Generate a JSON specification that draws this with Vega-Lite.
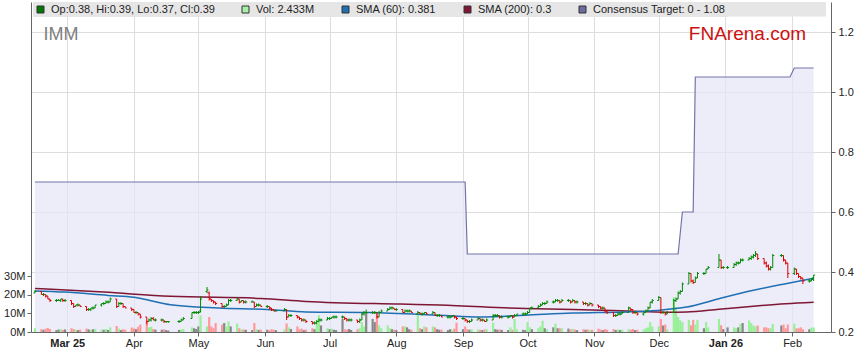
{
"$schema": "https://vega.github.io/schema/vega-lite/v6.json",
"width": 800, "height": 330,
"autosize": {"type": "none"},
"padding": {"left": 31, "top": 2, "right": 28, "bottom": 31},
"background": "white",
"config": {
 "view": {"stroke": null},
 "font": "Liberation Sans",
 "axis": {"labelFont": "Liberation Sans", "labelFontSize": 11, "labelColor": "#222222", "tickColor": "#666666", "domainColor": "#666666", "gridColor": "#dddddd", "tickSize": 4, "labelFlush": false}
},
"datasets": {
 "px": [
{"d":"2025-02-14","o":0.33,"h":0.34,"l":0.33,"c":0.335,"v":2.0},
{"d":"2025-02-17","o":0.335,"h":0.335,"l":0.325,"c":0.325,"v":1.5},
{"d":"2025-02-18","o":0.325,"h":0.33,"l":0.32,"c":0.325,"v":1.2},
{"d":"2025-02-19","o":0.325,"h":0.325,"l":0.315,"c":0.32,"v":1.8},
{"d":"2025-02-20","o":0.32,"h":0.32,"l":0.31,"c":0.31,"v":2.2},
{"d":"2025-02-21","o":0.31,"h":0.31,"l":0.30,"c":0.305,"v":1.6},
{"d":"2025-02-24","o":0.305,"h":0.31,"l":0.30,"c":0.305,"v":1.0},
{"d":"2025-02-25","o":0.305,"h":0.31,"l":0.305,"c":0.305,"v":1.3},
{"d":"2025-02-26","o":0.305,"h":0.31,"l":0.30,"c":0.31,"v":1.5},
{"d":"2025-02-27","o":0.31,"h":0.31,"l":0.30,"c":0.305,"v":1.1},
{"d":"2025-02-28","o":0.305,"h":0.31,"l":0.30,"c":0.305,"v":1.4},
{"d":"2025-03-03","o":0.305,"h":0.305,"l":0.29,"c":0.295,"v":2.0},
{"d":"2025-03-04","o":0.295,"h":0.295,"l":0.28,"c":0.285,"v":1.6},
{"d":"2025-03-05","o":0.285,"h":0.29,"l":0.285,"c":0.29,"v":1.2},
{"d":"2025-03-06","o":0.29,"h":0.295,"l":0.285,"c":0.29,"v":1.0},
{"d":"2025-03-07","o":0.29,"h":0.29,"l":0.285,"c":0.285,"v":1.3},
{"d":"2025-03-10","o":0.285,"h":0.285,"l":0.27,"c":0.275,"v":1.8},
{"d":"2025-03-11","o":0.275,"h":0.28,"l":0.27,"c":0.275,"v":1.4},
{"d":"2025-03-12","o":0.275,"h":0.28,"l":0.27,"c":0.28,"v":1.1},
{"d":"2025-03-13","o":0.28,"h":0.285,"l":0.275,"c":0.28,"v":1.5},
{"d":"2025-03-14","o":0.28,"h":0.29,"l":0.28,"c":0.29,"v":1.7},
{"d":"2025-03-17","o":0.29,"h":0.295,"l":0.285,"c":0.295,"v":1.3},
{"d":"2025-03-18","o":0.295,"h":0.30,"l":0.29,"c":0.295,"v":1.2},
{"d":"2025-03-19","o":0.295,"h":0.305,"l":0.295,"c":0.30,"v":1.6},
{"d":"2025-03-20","o":0.30,"h":0.305,"l":0.295,"c":0.30,"v":1.1},
{"d":"2025-03-21","o":0.30,"h":0.315,"l":0.30,"c":0.31,"v":2.5},
{"d":"2025-03-24","o":0.31,"h":0.31,"l":0.28,"c":0.285,"v":3.2},
{"d":"2025-03-25","o":0.285,"h":0.30,"l":0.285,"c":0.295,"v":1.8},
{"d":"2025-03-26","o":0.295,"h":0.30,"l":0.29,"c":0.295,"v":1.0},
{"d":"2025-03-27","o":0.295,"h":0.295,"l":0.28,"c":0.285,"v":1.5},
{"d":"2025-03-28","o":0.285,"h":0.285,"l":0.28,"c":0.28,"v":1.2},
{"d":"2025-03-31","o":0.28,"h":0.28,"l":0.27,"c":0.275,"v":2.4},
{"d":"2025-04-01","o":0.275,"h":0.275,"l":0.265,"c":0.265,"v":1.9},
{"d":"2025-04-02","o":0.265,"h":0.27,"l":0.26,"c":0.265,"v":1.5},
{"d":"2025-04-03","o":0.265,"h":0.265,"l":0.255,"c":0.26,"v":2.8},
{"d":"2025-04-04","o":0.26,"h":0.26,"l":0.245,"c":0.25,"v":4.0},
{"d":"2025-04-07","o":0.25,"h":0.25,"l":0.225,"c":0.235,"v":6.2},
{"d":"2025-04-08","o":0.235,"h":0.245,"l":0.235,"c":0.24,"v":2.5},
{"d":"2025-04-09","o":0.24,"h":0.25,"l":0.235,"c":0.245,"v":2.8},
{"d":"2025-04-10","o":0.245,"h":0.25,"l":0.24,"c":0.24,"v":1.6},
{"d":"2025-04-11","o":0.24,"h":0.245,"l":0.235,"c":0.24,"v":1.3},
{"d":"2025-04-14","o":0.24,"h":0.245,"l":0.235,"c":0.24,"v":1.2},
{"d":"2025-04-15","o":0.24,"h":0.24,"l":0.23,"c":0.235,"v":1.5},
{"d":"2025-04-16","o":0.235,"h":0.235,"l":0.23,"c":0.235,"v":1.0},
{"d":"2025-04-17","o":0.235,"h":0.235,"l":0.23,"c":0.235,"v":0.8},
{"d":"2025-04-22","o":0.235,"h":0.24,"l":0.23,"c":0.235,"v":1.1},
{"d":"2025-04-23","o":0.235,"h":0.245,"l":0.235,"c":0.24,"v":1.4},
{"d":"2025-04-24","o":0.24,"h":0.25,"l":0.24,"c":0.245,"v":1.6},
{"d":"2025-04-28","o":0.245,"h":0.265,"l":0.245,"c":0.265,"v":2.5},
{"d":"2025-04-29","o":0.265,"h":0.27,"l":0.26,"c":0.265,"v":2.0},
{"d":"2025-04-30","o":0.265,"h":0.27,"l":0.26,"c":0.265,"v":1.6},
{"d":"2025-05-01","o":0.265,"h":0.27,"l":0.26,"c":0.265,"v":3.0},
{"d":"2025-05-02","o":0.27,"h":0.32,"l":0.265,"c":0.31,"v":8.9},
{"d":"2025-05-05","o":0.335,"h":0.35,"l":0.33,"c":0.34,"v":3.0},
{"d":"2025-05-06","o":0.33,"h":0.335,"l":0.305,"c":0.31,"v":8.0},
{"d":"2025-05-07","o":0.31,"h":0.31,"l":0.30,"c":0.305,"v":3.0},
{"d":"2025-05-08","o":0.305,"h":0.305,"l":0.295,"c":0.30,"v":2.0},
{"d":"2025-05-09","o":0.30,"h":0.30,"l":0.29,"c":0.295,"v":4.8},
{"d":"2025-05-12","o":0.295,"h":0.295,"l":0.28,"c":0.285,"v":4.0},
{"d":"2025-05-13","o":0.285,"h":0.29,"l":0.28,"c":0.285,"v":4.8},
{"d":"2025-05-14","o":0.285,"h":0.295,"l":0.285,"c":0.29,"v":3.0},
{"d":"2025-05-15","o":0.29,"h":0.31,"l":0.29,"c":0.305,"v":5.7},
{"d":"2025-05-16","o":0.305,"h":0.31,"l":0.30,"c":0.305,"v":3.0},
{"d":"2025-05-19","o":0.305,"h":0.315,"l":0.305,"c":0.31,"v":4.5},
{"d":"2025-05-20","o":0.31,"h":0.31,"l":0.295,"c":0.30,"v":2.0},
{"d":"2025-05-21","o":0.30,"h":0.305,"l":0.30,"c":0.305,"v":1.5},
{"d":"2025-05-22","o":0.305,"h":0.305,"l":0.295,"c":0.30,"v":1.3},
{"d":"2025-05-23","o":0.30,"h":0.305,"l":0.295,"c":0.30,"v":1.2},
{"d":"2025-05-26","o":0.30,"h":0.305,"l":0.30,"c":0.30,"v":1.0},
{"d":"2025-05-27","o":0.30,"h":0.30,"l":0.28,"c":0.285,"v":4.8},
{"d":"2025-05-28","o":0.285,"h":0.295,"l":0.285,"c":0.29,"v":1.5},
{"d":"2025-05-29","o":0.29,"h":0.295,"l":0.285,"c":0.29,"v":1.1},
{"d":"2025-05-30","o":0.29,"h":0.29,"l":0.285,"c":0.285,"v":1.3},
{"d":"2025-06-02","o":0.285,"h":0.29,"l":0.28,"c":0.285,"v":1.2},
{"d":"2025-06-03","o":0.285,"h":0.285,"l":0.275,"c":0.28,"v":1.0},
{"d":"2025-06-04","o":0.28,"h":0.28,"l":0.27,"c":0.275,"v":1.5},
{"d":"2025-06-05","o":0.275,"h":0.275,"l":0.27,"c":0.27,"v":1.2},
{"d":"2025-06-06","o":0.27,"h":0.275,"l":0.27,"c":0.27,"v":1.0},
{"d":"2025-06-10","o":0.27,"h":0.28,"l":0.27,"c":0.275,"v":1.4},
{"d":"2025-06-11","o":0.275,"h":0.275,"l":0.24,"c":0.25,"v":4.5},
{"d":"2025-06-12","o":0.25,"h":0.26,"l":0.25,"c":0.255,"v":2.5},
{"d":"2025-06-13","o":0.255,"h":0.26,"l":0.25,"c":0.255,"v":1.6},
{"d":"2025-06-16","o":0.255,"h":0.255,"l":0.245,"c":0.25,"v":3.0},
{"d":"2025-06-17","o":0.25,"h":0.25,"l":0.24,"c":0.245,"v":1.5},
{"d":"2025-06-18","o":0.245,"h":0.245,"l":0.235,"c":0.24,"v":1.8},
{"d":"2025-06-19","o":0.24,"h":0.245,"l":0.235,"c":0.24,"v":1.0},
{"d":"2025-06-20","o":0.24,"h":0.24,"l":0.23,"c":0.235,"v":1.3},
{"d":"2025-06-23","o":0.235,"h":0.235,"l":0.225,"c":0.23,"v":2.0},
{"d":"2025-06-24","o":0.23,"h":0.235,"l":0.225,"c":0.23,"v":1.5},
{"d":"2025-06-25","o":0.23,"h":0.24,"l":0.225,"c":0.235,"v":4.0},
{"d":"2025-06-26","o":0.235,"h":0.245,"l":0.235,"c":0.24,"v":9.0},
{"d":"2025-06-27","o":0.24,"h":0.245,"l":0.235,"c":0.24,"v":3.5},
{"d":"2025-06-30","o":0.24,"h":0.25,"l":0.24,"c":0.245,"v":2.0},
{"d":"2025-07-01","o":0.245,"h":0.25,"l":0.24,"c":0.245,"v":1.5},
{"d":"2025-07-02","o":0.245,"h":0.25,"l":0.245,"c":0.25,"v":1.8},
{"d":"2025-07-03","o":0.25,"h":0.255,"l":0.245,"c":0.25,"v":1.2},
{"d":"2025-07-04","o":0.25,"h":0.255,"l":0.245,"c":0.25,"v":1.0},
{"d":"2025-07-07","o":0.25,"h":0.255,"l":0.245,"c":0.25,"v":7.0},
{"d":"2025-07-08","o":0.25,"h":0.25,"l":0.24,"c":0.245,"v":1.5},
{"d":"2025-07-09","o":0.245,"h":0.245,"l":0.235,"c":0.24,"v":1.2},
{"d":"2025-07-10","o":0.24,"h":0.245,"l":0.235,"c":0.24,"v":1.6},
{"d":"2025-07-11","o":0.24,"h":0.245,"l":0.235,"c":0.24,"v":1.1},
{"d":"2025-07-14","o":0.24,"h":0.24,"l":0.23,"c":0.235,"v":1.5},
{"d":"2025-07-15","o":0.235,"h":0.245,"l":0.23,"c":0.24,"v":2.0},
{"d":"2025-07-16","o":0.24,"h":0.265,"l":0.24,"c":0.26,"v":5.3},
{"d":"2025-07-17","o":0.26,"h":0.27,"l":0.255,"c":0.265,"v":3.0},
{"d":"2025-07-18","o":0.265,"h":0.275,"l":0.26,"c":0.265,"v":10.0},
{"d":"2025-07-21","o":0.265,"h":0.27,"l":0.26,"c":0.265,"v":7.0},
{"d":"2025-07-22","o":0.265,"h":0.27,"l":0.26,"c":0.265,"v":5.3},
{"d":"2025-07-23","o":0.265,"h":0.265,"l":0.245,"c":0.25,"v":10.0},
{"d":"2025-07-24","o":0.25,"h":0.27,"l":0.25,"c":0.265,"v":3.5},
{"d":"2025-07-25","o":0.265,"h":0.275,"l":0.265,"c":0.27,"v":2.0},
{"d":"2025-07-28","o":0.27,"h":0.28,"l":0.27,"c":0.275,"v":3.5},
{"d":"2025-07-29","o":0.275,"h":0.285,"l":0.275,"c":0.28,"v":2.0},
{"d":"2025-07-30","o":0.28,"h":0.285,"l":0.275,"c":0.28,"v":1.5},
{"d":"2025-07-31","o":0.28,"h":0.28,"l":0.275,"c":0.275,"v":1.2},
{"d":"2025-08-01","o":0.275,"h":0.28,"l":0.27,"c":0.275,"v":1.0},
{"d":"2025-08-04","o":0.275,"h":0.275,"l":0.265,"c":0.265,"v":3.0},
{"d":"2025-08-05","o":0.265,"h":0.275,"l":0.265,"c":0.27,"v":3.0},
{"d":"2025-08-06","o":0.27,"h":0.275,"l":0.265,"c":0.27,"v":2.5},
{"d":"2025-08-07","o":0.27,"h":0.275,"l":0.265,"c":0.27,"v":1.5},
{"d":"2025-08-08","o":0.27,"h":0.27,"l":0.265,"c":0.265,"v":1.2},
{"d":"2025-08-11","o":0.26,"h":0.27,"l":0.26,"c":0.265,"v":10.0},
{"d":"2025-08-12","o":0.265,"h":0.265,"l":0.26,"c":0.26,"v":2.0},
{"d":"2025-08-13","o":0.26,"h":0.265,"l":0.255,"c":0.26,"v":1.5},
{"d":"2025-08-14","o":0.26,"h":0.265,"l":0.26,"c":0.265,"v":3.0},
{"d":"2025-08-15","o":0.265,"h":0.265,"l":0.26,"c":0.26,"v":2.5},
{"d":"2025-08-18","o":0.26,"h":0.27,"l":0.26,"c":0.265,"v":3.0},
{"d":"2025-08-19","o":0.265,"h":0.265,"l":0.255,"c":0.255,"v":2.5},
{"d":"2025-08-20","o":0.255,"h":0.26,"l":0.25,"c":0.255,"v":1.5},
{"d":"2025-08-21","o":0.255,"h":0.26,"l":0.25,"c":0.255,"v":1.2},
{"d":"2025-08-22","o":0.255,"h":0.255,"l":0.25,"c":0.25,"v":1.3},
{"d":"2025-08-25","o":0.25,"h":0.255,"l":0.245,"c":0.25,"v":1.0},
{"d":"2025-08-26","o":0.25,"h":0.255,"l":0.245,"c":0.25,"v":1.5},
{"d":"2025-08-27","o":0.25,"h":0.255,"l":0.25,"c":0.255,"v":1.2},
{"d":"2025-08-28","o":0.255,"h":0.255,"l":0.245,"c":0.25,"v":1.8},
{"d":"2025-08-29","o":0.25,"h":0.25,"l":0.24,"c":0.245,"v":5.0},
{"d":"2025-09-01","o":0.245,"h":0.25,"l":0.24,"c":0.245,"v":1.5},
{"d":"2025-09-02","o":0.245,"h":0.245,"l":0.235,"c":0.24,"v":3.0},
{"d":"2025-09-03","o":0.24,"h":0.24,"l":0.23,"c":0.235,"v":1.5},
{"d":"2025-09-04","o":0.235,"h":0.24,"l":0.23,"c":0.235,"v":1.2},
{"d":"2025-09-05","o":0.235,"h":0.245,"l":0.235,"c":0.24,"v":1.5},
{"d":"2025-09-08","o":0.24,"h":0.25,"l":0.24,"c":0.245,"v":1.3},
{"d":"2025-09-09","o":0.245,"h":0.245,"l":0.235,"c":0.24,"v":1.2},
{"d":"2025-09-10","o":0.24,"h":0.245,"l":0.235,"c":0.24,"v":1.0},
{"d":"2025-09-11","o":0.24,"h":0.24,"l":0.235,"c":0.235,"v":1.4},
{"d":"2025-09-12","o":0.235,"h":0.245,"l":0.235,"c":0.24,"v":1.5},
{"d":"2025-09-15","o":0.24,"h":0.26,"l":0.24,"c":0.255,"v":5.0},
{"d":"2025-09-16","o":0.255,"h":0.26,"l":0.25,"c":0.255,"v":1.5},
{"d":"2025-09-17","o":0.255,"h":0.26,"l":0.25,"c":0.255,"v":1.2},
{"d":"2025-09-18","o":0.255,"h":0.255,"l":0.245,"c":0.25,"v":1.4},
{"d":"2025-09-19","o":0.25,"h":0.255,"l":0.245,"c":0.25,"v":1.1},
{"d":"2025-09-22","o":0.25,"h":0.255,"l":0.245,"c":0.25,"v":1.0},
{"d":"2025-09-23","o":0.25,"h":0.255,"l":0.25,"c":0.255,"v":2.5},
{"d":"2025-09-24","o":0.255,"h":0.255,"l":0.245,"c":0.25,"v":1.2},
{"d":"2025-09-25","o":0.25,"h":0.26,"l":0.25,"c":0.255,"v":7.0},
{"d":"2025-09-26","o":0.255,"h":0.26,"l":0.255,"c":0.26,"v":1.5},
{"d":"2025-09-29","o":0.26,"h":0.265,"l":0.255,"c":0.26,"v":1.2},
{"d":"2025-09-30","o":0.26,"h":0.265,"l":0.255,"c":0.26,"v":1.0},
{"d":"2025-10-01","o":0.26,"h":0.27,"l":0.26,"c":0.265,"v":5.3},
{"d":"2025-10-02","o":0.265,"h":0.28,"l":0.265,"c":0.28,"v":2.5},
{"d":"2025-10-03","o":0.28,"h":0.285,"l":0.275,"c":0.28,"v":1.5},
{"d":"2025-10-06","o":0.28,"h":0.29,"l":0.28,"c":0.285,"v":2.0},
{"d":"2025-10-07","o":0.285,"h":0.295,"l":0.285,"c":0.29,"v":3.0},
{"d":"2025-10-08","o":0.29,"h":0.30,"l":0.29,"c":0.295,"v":6.0},
{"d":"2025-10-09","o":0.295,"h":0.30,"l":0.29,"c":0.295,"v":2.0},
{"d":"2025-10-10","o":0.295,"h":0.305,"l":0.295,"c":0.30,"v":1.5},
{"d":"2025-10-13","o":0.30,"h":0.305,"l":0.295,"c":0.30,"v":2.5},
{"d":"2025-10-14","o":0.30,"h":0.31,"l":0.30,"c":0.305,"v":4.5},
{"d":"2025-10-15","o":0.305,"h":0.31,"l":0.30,"c":0.305,"v":2.0},
{"d":"2025-10-16","o":0.305,"h":0.305,"l":0.295,"c":0.30,"v":2.0},
{"d":"2025-10-17","o":0.30,"h":0.31,"l":0.30,"c":0.305,"v":2.0},
{"d":"2025-10-20","o":0.305,"h":0.31,"l":0.30,"c":0.305,"v":1.8},
{"d":"2025-10-21","o":0.305,"h":0.305,"l":0.295,"c":0.30,"v":1.5},
{"d":"2025-10-22","o":0.30,"h":0.31,"l":0.30,"c":0.305,"v":1.6},
{"d":"2025-10-23","o":0.305,"h":0.305,"l":0.295,"c":0.30,"v":1.3},
{"d":"2025-10-24","o":0.30,"h":0.305,"l":0.295,"c":0.30,"v":1.0},
{"d":"2025-10-27","o":0.30,"h":0.30,"l":0.29,"c":0.295,"v":1.5},
{"d":"2025-10-28","o":0.295,"h":0.30,"l":0.29,"c":0.295,"v":1.2},
{"d":"2025-10-29","o":0.295,"h":0.295,"l":0.285,"c":0.29,"v":1.4},
{"d":"2025-10-30","o":0.29,"h":0.30,"l":0.29,"c":0.295,"v":1.0},
{"d":"2025-10-31","o":0.295,"h":0.295,"l":0.285,"c":0.29,"v":1.2},
{"d":"2025-11-03","o":0.29,"h":0.29,"l":0.28,"c":0.285,"v":1.8},
{"d":"2025-11-04","o":0.285,"h":0.285,"l":0.275,"c":0.28,"v":1.3},
{"d":"2025-11-05","o":0.28,"h":0.285,"l":0.275,"c":0.28,"v":1.0},
{"d":"2025-11-06","o":0.28,"h":0.28,"l":0.265,"c":0.27,"v":1.5},
{"d":"2025-11-07","o":0.27,"h":0.27,"l":0.26,"c":0.265,"v":1.2},
{"d":"2025-11-10","o":0.265,"h":0.265,"l":0.25,"c":0.255,"v":1.6},
{"d":"2025-11-11","o":0.255,"h":0.26,"l":0.25,"c":0.255,"v":1.1},
{"d":"2025-11-12","o":0.255,"h":0.265,"l":0.255,"c":0.26,"v":1.4},
{"d":"2025-11-13","o":0.26,"h":0.265,"l":0.255,"c":0.26,"v":1.0},
{"d":"2025-11-14","o":0.26,"h":0.27,"l":0.26,"c":0.265,"v":1.3},
{"d":"2025-11-17","o":0.265,"h":0.285,"l":0.265,"c":0.28,"v":1.5},
{"d":"2025-11-18","o":0.28,"h":0.28,"l":0.27,"c":0.275,"v":1.2},
{"d":"2025-11-19","o":0.275,"h":0.275,"l":0.26,"c":0.265,"v":1.6},
{"d":"2025-11-20","o":0.265,"h":0.27,"l":0.26,"c":0.265,"v":1.0},
{"d":"2025-11-21","o":0.265,"h":0.265,"l":0.255,"c":0.26,"v":1.2},
{"d":"2025-11-24","o":0.26,"h":0.265,"l":0.255,"c":0.265,"v":1.4},
{"d":"2025-11-25","o":0.265,"h":0.275,"l":0.265,"c":0.27,"v":2.0},
{"d":"2025-11-26","o":0.27,"h":0.285,"l":0.27,"c":0.28,"v":2.5},
{"d":"2025-11-27","o":0.28,"h":0.30,"l":0.28,"c":0.30,"v":5.3},
{"d":"2025-11-28","o":0.30,"h":0.31,"l":0.295,"c":0.305,"v":3.0},
{"d":"2025-12-01","o":0.305,"h":0.32,"l":0.305,"c":0.315,"v":3.0},
{"d":"2025-12-02","o":0.315,"h":0.315,"l":0.26,"c":0.265,"v":7.0},
{"d":"2025-12-03","o":0.265,"h":0.27,"l":0.26,"c":0.265,"v":3.5},
{"d":"2025-12-04","o":0.265,"h":0.265,"l":0.255,"c":0.26,"v":4.0},
{"d":"2025-12-05","o":0.26,"h":0.27,"l":0.26,"c":0.265,"v":1.5},
{"d":"2025-12-08","o":0.265,"h":0.31,"l":0.265,"c":0.305,"v":18.7},
{"d":"2025-12-09","o":0.305,"h":0.315,"l":0.30,"c":0.31,"v":13.4},
{"d":"2025-12-10","o":0.31,"h":0.335,"l":0.31,"c":0.33,"v":8.0},
{"d":"2025-12-11","o":0.33,"h":0.34,"l":0.325,"c":0.335,"v":6.2},
{"d":"2025-12-12","o":0.335,"h":0.365,"l":0.335,"c":0.36,"v":5.3},
{"d":"2025-12-15","o":0.36,"h":0.40,"l":0.36,"c":0.395,"v":6.5},
{"d":"2025-12-16","o":0.395,"h":0.395,"l":0.365,"c":0.37,"v":3.6},
{"d":"2025-12-17","o":0.37,"h":0.375,"l":0.36,"c":0.365,"v":6.5},
{"d":"2025-12-18","o":0.365,"h":0.385,"l":0.365,"c":0.38,"v":4.0},
{"d":"2025-12-19","o":0.38,"h":0.40,"l":0.38,"c":0.395,"v":6.5},
{"d":"2025-12-22","o":0.395,"h":0.40,"l":0.39,"c":0.395,"v":2.0},
{"d":"2025-12-23","o":0.395,"h":0.41,"l":0.395,"c":0.41,"v":5.3},
{"d":"2025-12-24","o":0.41,"h":0.42,"l":0.41,"c":0.415,"v":2.5},
{"d":"2025-12-29","o":0.415,"h":0.46,"l":0.415,"c":0.44,"v":7.0},
{"d":"2025-12-30","o":0.44,"h":0.44,"l":0.41,"c":0.415,"v":3.6},
{"d":"2025-12-31","o":0.415,"h":0.42,"l":0.41,"c":0.415,"v":1.5},
{"d":"2026-01-02","o":0.415,"h":0.42,"l":0.41,"c":0.415,"v":2.5},
{"d":"2026-01-05","o":0.415,"h":0.43,"l":0.415,"c":0.425,"v":2.5},
{"d":"2026-01-06","o":0.425,"h":0.435,"l":0.42,"c":0.43,"v":2.0},
{"d":"2026-01-07","o":0.43,"h":0.435,"l":0.425,"c":0.43,"v":2.5},
{"d":"2026-01-08","o":0.43,"h":0.445,"l":0.43,"c":0.44,"v":4.4},
{"d":"2026-01-09","o":0.44,"h":0.445,"l":0.435,"c":0.44,"v":4.8},
{"d":"2026-01-12","o":0.44,"h":0.45,"l":0.44,"c":0.445,"v":6.2},
{"d":"2026-01-13","o":0.445,"h":0.455,"l":0.44,"c":0.45,"v":4.8},
{"d":"2026-01-14","o":0.45,"h":0.46,"l":0.445,"c":0.455,"v":3.5},
{"d":"2026-01-15","o":0.455,"h":0.47,"l":0.45,"c":0.46,"v":3.0},
{"d":"2026-01-16","o":0.46,"h":0.46,"l":0.44,"c":0.445,"v":3.5},
{"d":"2026-01-19","o":0.445,"h":0.445,"l":0.425,"c":0.43,"v":2.5},
{"d":"2026-01-20","o":0.43,"h":0.435,"l":0.415,"c":0.42,"v":2.5},
{"d":"2026-01-21","o":0.42,"h":0.425,"l":0.405,"c":0.41,"v":2.0},
{"d":"2026-01-22","o":0.41,"h":0.42,"l":0.405,"c":0.415,"v":2.0},
{"d":"2026-01-23","o":0.415,"h":0.46,"l":0.415,"c":0.455,"v":4.4},
{"d":"2026-01-27","o":0.455,"h":0.46,"l":0.45,"c":0.455,"v":3.5},
{"d":"2026-01-28","o":0.455,"h":0.455,"l":0.435,"c":0.44,"v":4.0},
{"d":"2026-01-29","o":0.44,"h":0.44,"l":0.425,"c":0.43,"v":2.0},
{"d":"2026-01-30","o":0.43,"h":0.43,"l":0.38,"c":0.395,"v":4.0},
{"d":"2026-02-02","o":0.395,"h":0.415,"l":0.39,"c":0.41,"v":4.5},
{"d":"2026-02-03","o":0.41,"h":0.41,"l":0.39,"c":0.395,"v":2.0},
{"d":"2026-02-04","o":0.395,"h":0.395,"l":0.38,"c":0.385,"v":2.0},
{"d":"2026-02-05","o":0.385,"h":0.385,"l":0.375,"c":0.38,"v":2.5},
{"d":"2026-02-06","o":0.38,"h":0.38,"l":0.36,"c":0.37,"v":1.5},
{"d":"2026-02-09","o":0.37,"h":0.375,"l":0.365,"c":0.37,"v":1.5},
{"d":"2026-02-10","o":0.37,"h":0.38,"l":0.37,"c":0.375,"v":2.3},
{"d":"2026-02-11","o":0.38,"h":0.39,"l":0.37,"c":0.39,"v":2.433}
 ],
 "tgt": [
{"d":"2025-02-14","t":0.7},{"d":"2025-09-02","t":0.7},{"d":"2025-09-03","t":0.46},{"d":"2025-12-10","t":0.46},{"d":"2025-12-12","t":0.6},{"d":"2025-12-17","t":0.6},{"d":"2025-12-18","t":1.05},{"d":"2026-01-31","t":1.05},{"d":"2026-02-02","t":1.08},{"d":"2026-02-11","t":1.08}
 ],
 "s60": [
{"d":"2025-02-14","v":0.337},{"d":"2025-02-28","v":0.333},{"d":"2025-03-20","v":0.322},{"d":"2025-04-01","v":0.316},{"d":"2025-04-08","v":0.306},{"d":"2025-04-18","v":0.291},{"d":"2025-05-10","v":0.28},{"d":"2025-06-02","v":0.275},{"d":"2025-06-20","v":0.267},{"d":"2025-07-19","v":0.265},{"d":"2025-08-21","v":0.256},{"d":"2025-09-09","v":0.25},{"d":"2025-09-30","v":0.256},{"d":"2025-10-22","v":0.263},{"d":"2025-11-16","v":0.267},{"d":"2025-11-30","v":0.272},{"d":"2025-12-14","v":0.283},{"d":"2025-12-29","v":0.311},{"d":"2026-01-14","v":0.339},{"d":"2026-01-29","v":0.361},{"d":"2026-02-11","v":0.379}
 ],
 "s200": [
{"d":"2025-02-14","v":0.345},{"d":"2025-03-18","v":0.333},{"d":"2025-04-18","v":0.319},{"d":"2025-05-30","v":0.312},{"d":"2025-06-20","v":0.302},{"d":"2025-08-03","v":0.293},{"d":"2025-08-21","v":0.29},{"d":"2025-09-30","v":0.278},{"d":"2025-10-22","v":0.275},{"d":"2025-11-16","v":0.27},{"d":"2025-12-05","v":0.266},{"d":"2025-12-14","v":0.267},{"d":"2025-12-29","v":0.276},{"d":"2026-01-14","v":0.286},{"d":"2026-01-29","v":0.294},{"d":"2026-02-11","v":0.299}
 ],
 "leg": [
{"k":"Op:0.38, Hi:0.39, Lo:0.37, Cl:0.39"},{"k":"Vol: 2.433M"},{"k":"SMA (60): 0.381"},{"k":"SMA (200): 0.3"},{"k":"Consensus Target: 0 - 1.08"}
 ],
 "legstrip": [{"d": "2025-02-14T12:00:00Z", "lo": 1.252, "hi": 1.3}, {"d": "2026-02-16T18:00:00Z", "lo": 1.252, "hi": 1.3}],
 "brand": [{"d": "2025-02-18", "p": 1.173, "s": "IMM"}],
 "site": [{"d": "2025-12-15", "p": 1.173, "s": "FNArena.com"}]
},
"layer": [
 {
  "layer": [
   {
    "data": {"name": "legstrip"},
    "mark": {"type": "area", "fill": "#e6e6e6"},
    "encoding": {
     "x": {"field": "d", "type": "temporal", "title": null},
     "y": {"field": "lo", "type": "quantitative", "title": null, "scale": {"domain": [0.2, 1.3]}},
     "y2": {"field": "hi"}
    }
   },
   {
    "data": {"name": "tgt"},
    "mark": {"type": "area", "fill": "#e6e6f8", "clip": true, "line": {"stroke": "#7474aa", "strokeWidth": 1.2}},
    "encoding": {
     "x": {"field": "d", "type": "temporal", "title": null,
      "scale": {"type": "utc", "domain": [1739534400000, 1771264800000]},
      "axis": {"grid": true, "labelPadding": 1, "title": null,
       "values": [1740787200000, 1743465600000, 1746057600000, 1748736000000, 1751328000000, 1754006400000, 1756684800000, 1759276800000, 1761955200000, 1764547200000, 1767225600000, 1769904000000],
       "labelExpr": "utcFormat(datum.value, (utcmonth(datum.value) == 0 || (utcmonth(datum.value) == 2 && utcyear(datum.value) == 2025)) ? '%b %y' : '%b')",
       "labelFontWeight": {"condition": {"test": "utcmonth(datum.value) == 0 || (utcmonth(datum.value) == 2 && utcyear(datum.value) == 2025)", "value": "bold"}, "value": "normal"}
      }
     },
     "y": {"field": "t", "type": "quantitative", "scale": {"domain": [0.2, 1.3]},
      "axis": {"orient": "right", "title": null, "values": [0.2,0.3,0.4,0.5,0.6,0.7,0.8,0.9,1.0,1.1,1.2], "format": ".1f", "grid": true, "labelPadding": 3}},
     "y2": {"datum": 0.2}
    }
   }
  ]
 },
 {
  "data": {"name": "px"},
  "mark": {"type": "bar", "size": 2.2, "clip": true},
  "encoding": {
   "x": {"field": "d", "type": "temporal", "title": null},
   "y": {"field": "v", "type": "quantitative", "scale": {"domain": [0, 176.8]},
    "axis": {"orient": "left", "title": null, "values": [0,10,20,30], "labelExpr": "datum.value + 'M'", "grid": false, "zindex": 1, "labelPadding": 2}},
   "color": {"condition": [{"test": "datum.c > datum.o", "value": "#99f099"}, {"test": "datum.c < datum.o", "value": "#ff9999"}], "value": "#888888"}
  }
 },
 {
  "layer": [
   {
    "data": {"name": "s200"},
    "mark": {"type": "line", "stroke": "#7f1734", "strokeWidth": 1.5, "interpolate": "monotone"},
    "encoding": {
     "x": {"field": "d", "type": "temporal", "title": null},
     "y": {"field": "v", "type": "quantitative", "scale": {"domain": [0.2, 1.3]}, "axis": null}}
   },
   {
    "data": {"name": "s60"},
    "mark": {"type": "line", "stroke": "#1f6fb2", "strokeWidth": 1.5, "interpolate": "monotone"},
    "encoding": {
     "x": {"field": "d", "type": "temporal", "title": null},
     "y": {"field": "v", "type": "quantitative", "scale": {"domain": [0.2, 1.3]}, "axis": null}}
   },
   {
    "data": {"name": "px"},
    "mark": {"type": "rule", "strokeWidth": 1, "clip": true},
    "encoding": {
     "x": {"field": "d", "type": "temporal", "title": null},
     "y": {"field": "l", "type": "quantitative", "scale": {"domain": [0.2, 1.3]}, "axis": null},
     "y2": {"field": "h"},
     "color": {"condition": {"test": "datum.c >= datum.o", "value": "#008800"}, "value": "#dd0000"}
    }
   },
   {
    "data": {"name": "px"},
    "mark": {"type": "rule", "strokeWidth": 1, "clip": true, "xOffset": -1.5, "x2Offset": 0},
    "encoding": {
     "x": {"field": "d", "type": "temporal", "title": null},
     "x2": {"field": "d"},
     "y": {"field": "o", "type": "quantitative", "scale": {"domain": [0.2, 1.3]}, "axis": null},
     "color": {"condition": {"test": "datum.c >= datum.o", "value": "#008800"}, "value": "#dd0000"}
    }
   },
   {
    "data": {"name": "px"},
    "mark": {"type": "rule", "strokeWidth": 1, "clip": true, "xOffset": 0, "x2Offset": 1.5},
    "encoding": {
     "x": {"field": "d", "type": "temporal", "title": null},
     "x2": {"field": "d"},
     "y": {"field": "c", "type": "quantitative", "scale": {"domain": [0.2, 1.3]}, "axis": null},
     "color": {"condition": {"test": "datum.c >= datum.o", "value": "#008800"}, "value": "#dd0000"}
    }
   },
   {
    "data": {"name": "brand"},
    "mark": {"type": "text", "align": "left", "baseline": "alphabetic", "fontSize": 18, "font": "Liberation Sans", "color": "#808080"},
    "encoding": {
     "x": {"field": "d", "type": "temporal", "title": null},
     "y": {"field": "p", "type": "quantitative", "scale": {"domain": [0.2, 1.3]}, "axis": null},
     "text": {"field": "s"}
    }
   },
   {
    "data": {"name": "site"},
    "mark": {"type": "text", "align": "left", "baseline": "alphabetic", "fontSize": 19, "font": "Liberation Sans", "color": "#cc1111"},
    "encoding": {
     "x": {"field": "d", "type": "temporal", "title": null},
     "y": {"field": "p", "type": "quantitative", "scale": {"domain": [0.2, 1.3]}, "axis": null},
     "text": {"field": "s"}
    }
   },
   {
    "data": {"name": "leg"},
    "mark": {"type": "square", "opacity": 0},
    "encoding": {
     "fill": {"field": "k", "type": "nominal",
      "scale": {"domain": ["Op:0.38, Hi:0.39, Lo:0.37, Cl:0.39", "Vol: 2.433M", "SMA (60): 0.381", "SMA (200): 0.3", "Consensus Target: 0 - 1.08"], "range": ["#007700", "#a8f0a8", "#1f6fb2", "#7f1734", "#6b6b9e"]},
      "legend": {"orient": "none", "legendX": 2, "legendY": 0, "direction": "horizontal", "columns": 5, "title": null, "symbolType": "square", "symbolSize": 49, "symbolStrokeColor": "#333333", "symbolStrokeWidth": 1, "symbolOpacity": 1, "labelFont": "Liberation Sans", "labelFontSize": 11, "labelColor": "#222222", "labelOffset": 5, "columnPadding": 25, "padding": 2, "fillColor": "#e6e6e6", "labelLimit": 400}
     }
    }
   }
  ]
 }
],
"resolve": {"scale": {"y": "independent"}, "axis": {"y": "independent"}}
}
